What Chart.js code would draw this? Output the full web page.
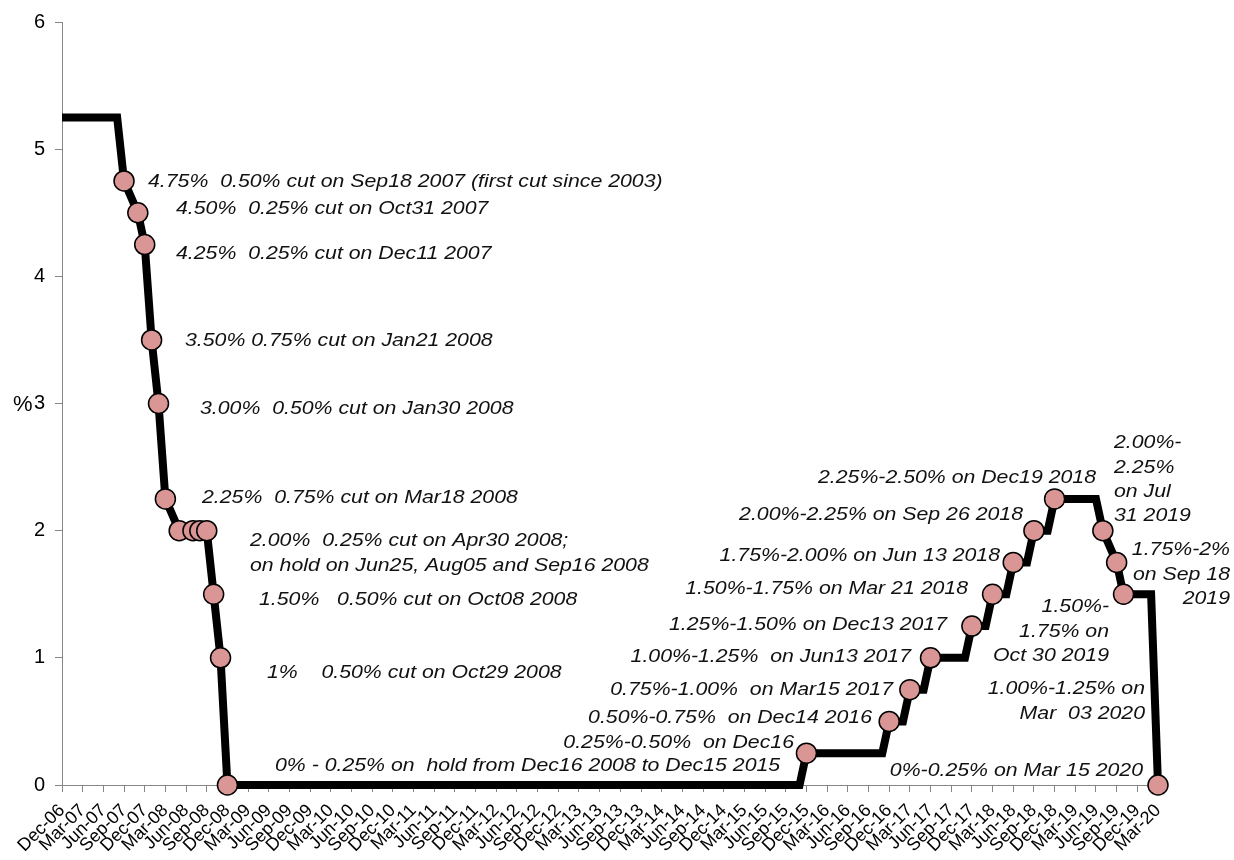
<!DOCTYPE html>
<html>
<head>
<meta charset="utf-8">
<title>Fed funds target rate, Dec 2006 - Mar 2020</title>
<script src="https://cdn.jsdelivr.net/npm/chart.js@4.4.1/dist/chart.umd.min.js"></script>
<style>
  html, body { margin: 0; padding: 0; background: #fff; }
  #wrap { width: 1234px; height: 860px; }
</style>
</head>
<body>
<div id="wrap"><canvas id="rateChart" width="1234" height="860"></canvas></div>
<script>
// quarterly axis labels
const quarterLabels = ['Dec-06','Mar-07','Jun-07','Sep-07','Dec-07','Mar-08','Jun-08','Sep-08','Dec-08',
  'Mar-09','Jun-09','Sep-09','Dec-09','Mar-10','Jun-10','Sep-10','Dec-10','Mar-11','Jun-11','Sep-11','Dec-11',
  'Mar-12','Jun-12','Sep-12','Dec-12','Mar-13','Jun-13','Sep-13','Dec-13','Mar-14','Jun-14','Sep-14','Dec-14',
  'Mar-15','Jun-15','Sep-15','Dec-15','Mar-16','Jun-16','Sep-16','Dec-16','Mar-17','Jun-17','Sep-17','Dec-17',
  'Mar-18','Jun-18','Sep-18','Dec-18','Mar-19','Jun-19','Sep-19','Dec-19','Mar-20'];

// monthly target rate (%), Jan..Dec; null = no monthly reading
const rate2006 = [5.25]; // Dec only
const rate2007 = [5.25, 5.25, 5.25, 5.25, 5.25, 5.25, 5.25, 5.25, 4.75, null, 4.50, 4.25];
const rate2008 = [3.50, 3.00, 2.25, null, 2.00, 2.00, 2.00, 2.00, 2.00, 1.50, 1.00, 0];
const rate2009 = [0, 0, 0, 0, 0, 0, 0, 0, 0, 0, 0, 0];
const rate2010 = [0, 0, 0, 0, 0, 0, 0, 0, 0, 0, 0, 0];
const rate2011 = [0, 0, 0, 0, 0, 0, 0, 0, 0, 0, 0, 0];
const rate2012 = [0, 0, 0, 0, 0, 0, 0, 0, 0, 0, 0, 0];
const rate2013 = [0, 0, 0, 0, 0, 0, 0, 0, 0, 0, 0, 0];
const rate2014 = [0, 0, 0, 0, 0, 0, 0, 0, 0, 0, 0, 0];
const rate2015 = [0, 0, 0, 0, 0, 0, 0, 0, 0, 0, 0, 0.25];
const rate2016 = [0.25, 0.25, 0.25, 0.25, 0.25, 0.25, 0.25, 0.25, 0.25, 0.25, 0.25, 0.50];
const rate2017 = [0.50, 0.50, 0.75, 0.75, 0.75, 1.00, 1.00, 1.00, 1.00, 1.00, 1.00, 1.25];
const rate2018 = [1.25, 1.25, 1.50, 1.50, 1.50, 1.75, 1.75, 1.75, 2.00, 2.00, 2.00, 2.25];
const rate2019 = [2.25, 2.25, 2.25, 2.25, 2.25, 2.25, 2.00, null, 1.75, 1.50, 1.50, 1.50];
const rate2020 = [1.50, 1.50, 0]; // Jan..Mar

// months where the FOMC moved the rate (or held it at a meeting)
const markedMonths = ['Sep-07','Nov-07','Dec-07','Jan-08','Feb-08','Mar-08','May-08','Jul-08','Aug-08',
  'Sep-08','Oct-08','Nov-08','Dec-08','Dec-15','Dec-16','Mar-17','Jun-17','Dec-17','Mar-18','Jun-18',
  'Sep-18','Dec-18','Jul-19','Sep-19','Oct-19','Mar-20'];

const noteText = [
  '4.75%  0.50% cut on Sep18 2007 (first cut since 2003)',
  '4.50%  0.25% cut on Oct31 2007',
  '4.25%  0.25% cut on Dec11 2007',
  '3.50% 0.75% cut on Jan21 2008',
  '3.00%  0.50% cut on Jan30 2008',
  '2.25%  0.75% cut on Mar18 2008',
  '2.00%  0.25% cut on Apr30 2008;\non hold on Jun25, Aug05 and Sep16 2008',
  '1.50%   0.50% cut on Oct08 2008',
  '1%    0.50% cut on Oct29 2008',
  '0% - 0.25% on  hold from Dec16 2008 to Dec15 2015',
  '0.25%-0.50%  on Dec16',
  '0.50%-0.75%  on Dec14 2016',
  '0.75%-1.00%  on Mar15 2017',
  '1.00%-1.25%  on Jun13 2017',
  '1.25%-1.50% on Dec13 2017',
  '1.50%-1.75% on Mar 21 2018',
  '1.75%-2.00% on Jun 13 2018',
  '2.00%-2.25% on Sep 26 2018',
  '2.25%-2.50% on Dec19 2018',
  '2.00%-\n2.25%\non Jul\n31 2019',
  '1.75%-2%\non Sep 18\n2019',
  '1.50%-\n1.75% on\nOct 30 2019',
  '1.00%-1.25% on\nMar  03 2020',
  '0%-0.25% on Mar 15 2020'
];

const monthNames = ['Jan','Feb','Mar','Apr','May','Jun','Jul','Aug','Sep','Oct','Nov','Dec'];
function monthIndex(label) {
  const [m, yy] = label.split('-');
  return (Number(yy) + 2000 - 2006) * 12 + monthNames.indexOf(m) + 1 - 12;
}

const rates = [].concat(rate2006, rate2007, rate2008, rate2009, rate2010, rate2011, rate2012,
  rate2013, rate2014, rate2015, rate2016, rate2017, rate2018, rate2019, rate2020);
const points = rates.map((v, i) => ({ x: i, y: v }));
const marked = new Set(markedMonths.map(monthIndex));

const FONT = '"Liberation Sans", Arial, sans-serif';
const STRETCH = 1.12;

// where each note sits: [x, y of first line, align]
const noteLayout = [
  [148, 182, 'left'], [176, 209, 'left'], [176, 254, 'left'], [185, 341, 'left'],
  [200, 409, 'left'], [202, 498, 'left'], [250, 541, 'left'], [259, 600, 'left'],
  [267, 673, 'left'], [275, 766, 'left'],
  [794, 743, 'right'], [872, 718, 'right'], [893, 690, 'right'], [911, 657, 'right'],
  [947, 625, 'right'], [968, 589, 'right'], [1000, 556, 'right'], [1023, 515, 'right'],
  [1096, 478, 'right'], [1114, 443, 'left'], [1230, 550, 'right'], [1109, 607, 'right'],
  [1145, 689, 'right'], [1143, 771, 'right']
];

function wideText(c, str, x, y, align) {
  const w = c.measureText(str).width * STRETCH;
  c.save();
  c.translate(align === 'right' ? x - w : x, y);
  c.scale(STRETCH, 1);
  c.fillText(str, 0, 0);
  c.restore();
}

const notesPlugin = {
  id: 'notes',
  afterDatasetsDraw(chart) {
    const c = chart.ctx;
    c.save();
    c.fillStyle = '#111';
    c.textBaseline = 'middle';
    c.textAlign = 'left';
    c.font = 'italic 19px ' + FONT;
    noteText.forEach((txt, i) => {
      const [x, y, align] = noteLayout[i];
      txt.split('\n').forEach((line, k) => wideText(c, line, x, y + k * 24.3, align));
    });
    // axis unit
    c.font = '22px ' + FONT;
    c.fillStyle = '#000';
    c.fillText('%', 13, chart.scales.y.getPixelForValue(3) + 1);
    c.restore();
  }
};

new Chart(document.getElementById('rateChart'), {
  type: 'line',
  data: {
    datasets: [{
      data: points,
      borderColor: '#000',
      borderWidth: 8,
      spanGaps: true,
      tension: 0,
      clip: false,
      pointRadius: ctx => marked.has(ctx.dataIndex) ? 10 : 0,
      pointHoverRadius: ctx => marked.has(ctx.dataIndex) ? 10 : 0,
      pointBackgroundColor: '#D99694',
      pointBorderColor: '#000',
      pointBorderWidth: 1.5
    }]
  },
  options: {
    responsive: false,
    animation: false,
    layout: { padding: { top: 22, right: 76, left: 0, bottom: 0 } },
    plugins: { legend: { display: false }, tooltip: { enabled: false } },
    scales: {
      x: {
        type: 'linear',
        min: 0,
        max: 159,
        afterFit: s => { s.height = 75; },
        afterBuildTicks: s => { s.ticks = quarterLabels.map((_, i) => ({ value: i * 3 })); },
        ticks: {
          autoSkip: false,
          minRotation: 45,
          maxRotation: 45,
          padding: 8,
          color: '#000',
          font: { family: FONT, size: 18 },
          callback: v => quarterLabels[v / 3]
        },
        grid: { drawOnChartArea: false, tickLength: 7, color: '#868686' },
        border: { color: '#868686', width: 1 }
      },
      y: {
        min: 0,
        max: 6,
        afterFit: s => { s.width = 62; },
        ticks: { stepSize: 1, padding: 10, color: '#000', font: { family: FONT, size: 20 } },
        grid: { drawOnChartArea: false, tickLength: 7, color: '#868686' },
        border: { color: '#868686', width: 1 }
      }
    }
  },
  plugins: [notesPlugin]
});
</script>
</body>
</html>
